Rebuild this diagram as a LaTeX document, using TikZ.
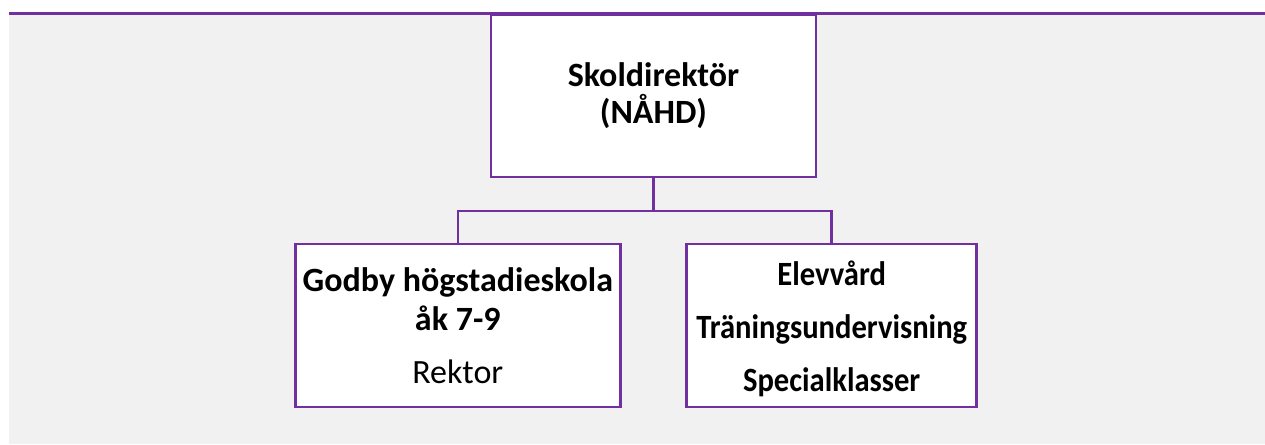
\documentclass[tikz,border=0pt]{standalone}
\usepackage{fontspec}
\setmainfont{Carlito}
\newfontfamily\condfont[FakeStretch=0.9]{Carlito}
\definecolor{purp}{HTML}{7030A0}
\definecolor{bg}{HTML}{F1F1F1}
\begin{document}
\begin{tikzpicture}[x=1pt,y=-1pt,
  orgbox/.style={draw=purp, line width=2.5pt, fill=white, inner sep=0pt, align=center,
    font=\bfseries\fontsize{34}{39}\selectfont},
  link/.style={draw=purp, line width=2.5pt}]
\useasboundingbox (0,0) rectangle (1265,444);
\fill[bg] (9,13.5) rectangle (1265,444);
\draw[purp, line width=3pt] (9,13.5) -- (1265,13.5);
\node[orgbox, minimum width=325pt, minimum height=162pt,
  font=\bfseries\fontsize{34}{37}\selectfont] (top) at (653.5,96) {Skoldirektör\\(NÅHD)};
\node[orgbox, minimum width=325pt, minimum height=163pt] (left) at (457.8,325.5)
  {Godby högstadieskola\\åk 7-9\\[14pt]{\mdseries Rektor}};
\node[orgbox, minimum width=290pt, minimum height=163pt,
  font=\condfont\bfseries\fontsize{34}{39}\selectfont] (right) at (831.7,325.5)
  {\rule{0pt}{31pt}Elevvård\\[14pt]Träningsundervisning\\[14pt]Specialklasser};
\coordinate (j) at (653.5,211);
\draw[link] (top.south) -- (j);
\draw[link] (left.north) |- (j) -| (right.north);
\end{tikzpicture}
\end{document}
